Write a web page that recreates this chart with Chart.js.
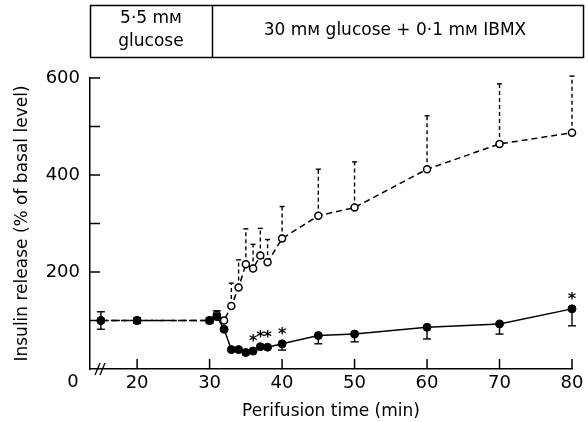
<!DOCTYPE html>
<html>
<head>
<meta charset="utf-8">
<script src="https://cdn.jsdelivr.net/npm/chart.js@4"></script>
<style>html,body{margin:0;padding:0;background:#fff}</style>
</head>
<body>
<canvas id="myChart" width="588" height="422"></canvas>
<script>
// perifusion times (min)
const times = [15, 20, 30, 31, 32, 33, 34, 35, 36, 37, 38, 40, 45, 50, 60, 70, 80];
// open circles, dashed line
const hollow = [100, 100, 100, 112, 100, 130, 168, 216, 207, 234, 220, 269, 316, 333, 412, 464, 487];
const hollowErr = [0, 0, 0, 0, 0, 47, 57, 73, 50, 56, 47, 66, 96, 94, 110, 124, 117];
// filled circles, solid line
const filled = [100, 100, 100, 108, 82, 40, 40, 34, 37, 46, 45, 52, 69, 72, 86, 93, 124];
const filledErrUp = [18, 6, 6, 12, 0, 0, 0, 0, 0, 0, 0, 0, 0, 0, 0, 0, 0];
const filledErrDown = [18, 6, 6, 0, 0, 0, 0, 0, 0, 0, 0, 13, 17, 16, 24, 21, 35];
const starTimes = [36, 37, 38, 40, 80];
const xTicks = [20, 30, 40, 50, 60, 70, 80];
const yTicks = [100, 200, 300, 400, 500, 600];
const yLabels = [200, 400, 600];

const FONT = '"DejaVu Sans", sans-serif';
const ctx = document.getElementById('myChart');

function seg(c, x0, y0, x1, y1) {
  c.beginPath();
  c.moveTo(x0, y0);
  c.lineTo(x1, y1);
  c.stroke();
}

const decor = {
  id: 'decor',
  beforeDatasetsDraw(chart) {
    const { ctx: c, scales: { x, y } } = chart;
    c.save();
    c.strokeStyle = '#000';
    c.lineWidth = 1.4;
    // open-circle error bars (dashed, upward)
    times.forEach((t, i) => {
      if (!hollowErr[i]) return;
      const px = x.getPixelForValue(t);
      const y0 = y.getPixelForValue(hollow[i]);
      const y1 = y.getPixelForValue(hollow[i] + hollowErr[i]);
      c.setLineDash([4, 3]);
      seg(c, px, y0, px, y1);
      c.setLineDash([]);
      seg(c, px - 2.5, y1, px + 2.5, y1);
    });
    // filled-circle error bars (solid)
    times.forEach((t, i) => {
      const px = x.getPixelForValue(t);
      const y0 = y.getPixelForValue(filled[i]);
      if (filledErrUp[i]) {
        const y1 = y.getPixelForValue(filled[i] + filledErrUp[i]);
        seg(c, px, y0, px, y1);
        seg(c, px - 4, y1, px + 4, y1);
      }
      if (filledErrDown[i]) {
        const y1 = y.getPixelForValue(filled[i] - filledErrDown[i]);
        seg(c, px, y0, px, y1);
        seg(c, px - 4, y1, px + 4, y1);
      }
    });
    c.restore();
  },
  afterDatasetsDraw(chart) {
    const { ctx: c, scales: { x, y } } = chart;
    c.save();
    c.fillStyle = '#000';
    c.font = 'bold 16px ' + FONT;
    c.textAlign = 'center';
    c.textBaseline = 'alphabetic';
    starTimes.forEach(t => {
      const i = times.indexOf(t);
      c.fillText('*', x.getPixelForValue(t), y.getPixelForValue(filled[i]) - 5);
    });
    c.restore();
  },
  afterDraw(chart) {
    const { ctx: c, chartArea: a, scales: { x, y } } = chart;
    c.save();
    c.strokeStyle = '#000';
    c.fillStyle = '#000';
    c.lineWidth = 1.5;
    // inward tick marks
    xTicks.forEach(v => {
      const px = x.getPixelForValue(v);
      seg(c, px, a.bottom, px, a.bottom - 10);
    });
    yTicks.forEach(v => {
      const py = y.getPixelForValue(v);
      seg(c, a.left, py, a.left + 10, py);
    });
    // axis break
    c.lineWidth = 1.3;
    seg(c, a.left + 5, a.bottom + 6, a.left + 10, a.bottom - 6);
    seg(c, a.left + 10, a.bottom + 6, a.left + 15, a.bottom - 6);
    // origin label
    c.font = '18px ' + FONT;
    c.textAlign = 'center';
    c.textBaseline = 'middle';
    c.fillText('0', a.left - 17, a.bottom + 13);
    // condition box
    c.lineWidth = 1.5;
    c.strokeRect(90.5, 5.5, 493, 52);
    seg(c, 212.5, 5.5, 212.5, 57.5);
    c.font = '17px ' + FONT;
    c.fillText('5\u00b75 m\u1d0d', 151, 19);
    c.fillText('glucose', 151, 42);
    c.fillText('30 m\u1d0d glucose + 0\u00b71 m\u1d0d IBMX', 395, 31);
    c.restore();
  }
};

new Chart(ctx, {
  type: 'line',
  data: {
    datasets: [
      {
        label: 'filled',
        data: times.map((t, i) => ({ x: t, y: filled[i] })),
        borderColor: '#000',
        backgroundColor: '#000',
        borderWidth: 1.5,
        pointRadius: 4,
        pointBorderWidth: 1,
        segment: {
          borderDash: c => (c.p1.parsed.x <= 30 ? [8, 3] : undefined)
        }
      },
      {
        label: 'hollow',
        data: times.map((t, i) => ({ x: t, y: hollow[i] })),
        borderColor: '#000',
        backgroundColor: '#fff',
        borderWidth: 1.5,
        borderDash: [6, 4],
        pointRadius: 3.5,
        pointBorderWidth: 1.5
      }
    ]
  },
  options: {
    responsive: false,
    animation: false,
    devicePixelRatio: 1,
    clip: false,
    layout: { padding: { top: 78, right: 16, left: 0, bottom: 0 } },
    plugins: {
      legend: { display: false },
      tooltip: { enabled: false }
    },
    scales: {
      x: {
        type: 'linear',
        min: 13.5,
        max: 80,
        afterFit: s => { s.height = 53; },
        afterBuildTicks: s => { s.ticks = xTicks.map(v => ({ value: v })); },
        grid: { display: false, drawTicks: false },
        border: { display: true, color: '#000', width: 1.5 },
        ticks: {
          color: '#000',
          padding: 4,
          maxRotation: 0,
          font: { family: FONT, size: 18 }
        },
        title: {
          display: true,
          text: 'Perifusion time (min)',
          color: '#000',
          font: { family: FONT, size: 17 },
          padding: { top: 0, bottom: 0 }
        }
      },
      y: {
        min: 0,
        max: 600,
        afterFit: s => { s.width = 90; },
        afterBuildTicks: s => { s.ticks = yLabels.map(v => ({ value: v })); },
        grid: { display: false, drawTicks: false },
        border: { display: true, color: '#000', width: 1.5 },
        ticks: {
          color: '#000',
          padding: 10,
          font: { family: FONT, size: 18 }
        },
        title: {
          display: true,
          text: 'Insulin release (% of basal level)',
          color: '#000',
          font: { family: FONT, size: 17 },
          padding: { top: 12, bottom: 0 }
        }
      }
    }
  },
  plugins: [decor]
});
</script>
</body>
</html>
